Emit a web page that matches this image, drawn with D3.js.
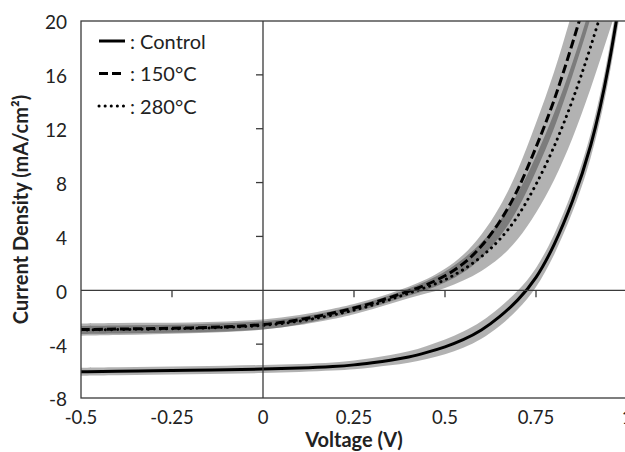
<!DOCTYPE html>
<html>
<head>
<meta charset="utf-8">
<script src="https://cdn.jsdelivr.net/npm/d3@7"></script>
<style>
    html, body { margin: 0; padding: 0; background: #fff; }
    svg { display: block; font-family: Lato, 'Open Sans', sans-serif; }
</style>
</head>
<body>
<svg id="chart"></svg>
<script>
// Voltage grid (V)
const voltage = [-0.5, -0.4, -0.3, -0.2, -0.1, 0, 0.1, 0.2, 0.25, 0.3, 0.35, 0.4, 0.45,
    0.5, 0.55, 0.6, 0.65, 0.7, 0.75, 0.8, 0.85, 0.9, 0.95, 1.0];

// Current density (mA/cm2) and spread for each sample
const controlJ = [-6.05, -6.02, -5.98, -5.94, -5.9, -5.85, -5.78, -5.66, -5.55, -5.38, -5.2, -4.98, -4.62,
    -4.22, -3.7, -3.0, -2.0, -0.77, 0.8, 3.3, 6.5, 10.4, 16.3, 25];
const controlErr = [0.3, 0.3, 0.3, 0.3, 0.3, 0.3, 0.3, 0.3, 0.32, 0.35, 0.38, 0.42, 0.48,
    0.55, 0.6, 0.65, 0.7, 0.7, 0.7, 0.75, 0.8, 0.9, 1.0, 1.2];

const j150 = [-2.92, -2.88, -2.84, -2.8, -2.72, -2.58, -2.22, -1.65, -1.32, -0.97, -0.52, -0.08, 0.4,
    1.05, 1.9, 3.2, 5.0, 7.35, 10.6, 14.0, 18.3, 22.8, 28, 34];
const err150 = [0.45, 0.45, 0.42, 0.4, 0.4, 0.38, 0.35, 0.32, 0.3, 0.3, 0.3, 0.32, 0.4,
    0.5, 0.65, 0.85, 1.1, 1.45, 1.8, 2.1, 2.4, 2.7, 3.0, 3.3];

const j280 = [-2.95, -2.92, -2.88, -2.84, -2.76, -2.64, -2.32, -1.8, -1.48, -1.12, -0.68, -0.22, 0.22,
    0.75, 1.5, 2.45, 3.7, 5.4, 7.8, 10.6, 14.0, 18.0, 22.5, 27];
const err280 = [0.3, 0.3, 0.3, 0.3, 0.3, 0.3, 0.3, 0.3, 0.3, 0.3, 0.32, 0.35, 0.45,
    0.6, 0.8, 1.05, 1.35, 1.7, 2.1, 2.5, 2.8, 3.1, 3.4, 3.7];

const seriesNames = ['Control', '150°C', '280°C'];
const xTicks = [-0.5, -0.25, 0, 0.25, 0.5, 0.75, 1];
const yTicks = [-8, -4, 0, 4, 8, 12, 16, 20];

const width = 625;
const height = 452;
const margin = { top: 21, right: -2, bottom: 54, left: 81 };

const LINE_DASH = {
    'Control': null,
    '150°C': '9,4',
    '280°C': '0.1,6'
};

function drawChart() {
    const svg = d3.select('#chart')
        .attr('width', width)
        .attr('height', height);

    const x = d3.scaleLinear()
        .domain([-0.5, 1])
        .range([margin.left, width - margin.right]);

    const y = d3.scaleLinear()
        .domain([-8, 20])
        .range([height - margin.bottom, margin.top]);

    svg.append('defs').append('clipPath')
        .attr('id', 'plot-clip')
        .append('rect')
        .attr('x', x(-0.5))
        .attr('y', y(20))
        .attr('width', x(1) - x(-0.5))
        .attr('height', y(-8) - y(20));

    const series = [
        { name: seriesNames[0], j: controlJ, err: controlErr },
        { name: seriesNames[1], j: j150, err: err150 },
        { name: seriesNames[2], j: j280, err: err280 }
    ].map(s => ({
        name: s.name,
        points: voltage.map((v, i) => ({ v: v, j: s.j[i], e: s.err[i] }))
    }));

    const plot = svg.append('g').attr('clip-path', 'url(#plot-clip)');
    const curve = d3.curveBasis;

    // Spread bands (semi-transparent so overlaps get darker)
    const area = d3.area()
        .curve(curve)
        .x(d => x(d.v))
        .y0(d => y(d.j - d.e))
        .y1(d => y(d.j + d.e));

    plot.append('g').selectAll('path')
        .data(series)
        .join('path')
        .attr('d', d => area(d.points))
        .attr('fill', '#000')
        .attr('fill-opacity', 0.3);

    // Frame and axes through zero
    const axisColor = '#3a3a3a';
    svg.append('rect')
        .attr('x', x(-0.5))
        .attr('y', y(20))
        .attr('width', x(1) - x(-0.5))
        .attr('height', y(-8) - y(20))
        .attr('fill', 'none')
        .attr('stroke', axisColor)
        .attr('stroke-width', 1.3);

    svg.append('line')
        .attr('x1', x(-0.5)).attr('x2', x(1))
        .attr('y1', y(0)).attr('y2', y(0))
        .attr('stroke', axisColor)
        .attr('stroke-width', 1.3);

    svg.append('line')
        .attr('x1', x(0)).attr('x2', x(0))
        .attr('y1', y(20)).attr('y2', y(-8))
        .attr('stroke', axisColor)
        .attr('stroke-width', 1.3);

    // Tick marks on the zero lines
    svg.append('g').selectAll('line')
        .data(xTicks.filter(t => t !== 0 && t !== -0.5))
        .join('line')
        .attr('x1', d => x(d)).attr('x2', d => x(d))
        .attr('y1', y(0)).attr('y2', y(0) + 7)
        .attr('stroke', axisColor)
        .attr('stroke-width', 1.3);

    svg.append('g').selectAll('line')
        .data(yTicks.filter(t => t !== 0 && t !== 20 && t !== -8))
        .join('line')
        .attr('x1', x(0) - 7).attr('x2', x(0))
        .attr('y1', d => y(d)).attr('y2', d => y(d))
        .attr('stroke', axisColor)
        .attr('stroke-width', 1.3);

    // Curves
    const line = d3.line()
        .curve(curve)
        .x(d => x(d.v))
        .y(d => y(d.j));

    plot.append('g').selectAll('path')
        .data(series)
        .join('path')
        .attr('d', d => line(d.points))
        .attr('fill', 'none')
        .attr('stroke', '#000')
        .attr('stroke-width', 3)
        .attr('stroke-linecap', d => d.name === '280°C' ? 'round' : 'butt')
        .attr('stroke-dasharray', d => LINE_DASH[d.name]);

    // Tick labels
    svg.append('g').selectAll('text')
        .data(yTicks)
        .join('text')
        .attr('x', 67)
        .attr('y', d => y(d))
        .attr('dy', '0.44em')
        .attr('text-anchor', 'end')
        .attr('font-size', 19)
        .attr('fill', '#222')
        .text(d => d);

    svg.append('g').selectAll('text')
        .data(xTicks)
        .join('text')
        .attr('x', d => x(d))
        .attr('y', 424)
        .attr('text-anchor', 'middle')
        .attr('font-size', 18.5)
        .attr('fill', '#222')
        .text(d => d);

    // Axis titles
    svg.append('text')
        .attr('x', (x(-0.5) + x(1)) / 2)
        .attr('y', 447)
        .attr('text-anchor', 'middle')
        .attr('font-size', 20)
        .attr('font-weight', 'bold')
        .attr('fill', '#222')
        .text('Voltage (V)');

    svg.append('text')
        .attr('transform', `translate(28,${(y(20) + y(-8)) / 2}) rotate(-90)`)
        .attr('text-anchor', 'middle')
        .attr('font-size', 20)
        .attr('font-weight', 'bold')
        .attr('fill', '#222')
        .text('Current Density (mA/cm²)');

    // Legend
    const legend = svg.append('g').selectAll('g')
        .data(series)
        .join('g')
        .attr('transform', (d, i) => `translate(99,${41 + i * 32.5})`);

    legend.append('line')
        .attr('x1', 0).attr('x2', 26)
        .attr('y1', 0).attr('y2', 0)
        .attr('stroke', '#000')
        .attr('stroke-width', 3)
        .attr('stroke-linecap', d => d.name === '280°C' ? 'round' : 'butt')
        .attr('stroke-dasharray', d => LINE_DASH[d.name]);

    legend.append('text')
        .attr('x', 31)
        .attr('y', 0)
        .attr('dy', '0.38em')
        .attr('font-size', 20)
        .attr('fill', '#222')
        .text(d => ': ' + d.name);
}

drawChart();
</script>
</body>
</html>
